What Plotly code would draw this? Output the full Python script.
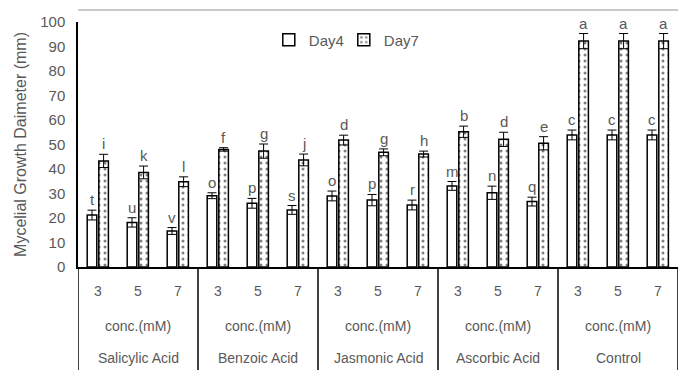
import plotly.graph_objects as go

groups = ["Salicylic Acid", "Benzoic Acid", "Jasmonic Acid", "Ascorbic Acid", "Control"]
concs = ["3", "5", "7"]
conc_label = "conc.(mM)"

day4 = [21.2, 18.2, 14.7, 29.1, 26.0, 23.3, 29.0, 27.3, 25.3, 33.1, 30.3, 26.7, 53.9, 53.9, 53.9]
day7 = [43.3, 38.6, 34.8, 48.0, 47.3, 43.7, 51.8, 46.8, 46.1, 55.2, 52.1, 50.5, 92.2, 92.2, 92.2]
err4 = [2.0, 1.9, 1.4, 1.2, 2.0, 1.8, 2.0, 2.3, 2.0, 1.8, 2.7, 1.8, 2.0, 2.0, 2.0]
err7 = [2.7, 2.6, 2.0, 0.7, 2.9, 2.4, 2.0, 1.4, 1.2, 2.3, 2.9, 2.7, 3.1, 3.1, 3.1]
letters4 = ["t", "u", "v", "o", "p", "s", "o", "p", "r", "m", "n", "q", "c", "c", "c"]
letters7 = ["i", "k", "l", "f", "g", "j", "d", "g", "h", "b", "d", "e", "a", "a", "a"]

FONT = "Liberation Sans, Arial, sans-serif"
GRAY = "#595959"

n = len(day4)
xs = list(range(n))
W = 0.24
OFF4, OFF7 = -0.27, 0.02

fig = go.Figure()
fig.add_trace(go.Bar(
    name="Day4", x=xs, y=day4, width=W, offset=OFF4,
    marker=dict(color="white", line=dict(color="black", width=1.5)),
    error_y=dict(type="data", array=err4, color="black", thickness=1, width=4.5),
))
fig.add_trace(go.Bar(
    name="Day7", x=xs, y=day7, width=W, offset=OFF7,
    marker=dict(color="white", line=dict(color="black", width=1.5),
                pattern=dict(shape=".", fgcolor="black", bgcolor="white", size=6, solidity=0.2)),
    error_y=dict(type="data", array=err7, color="black", thickness=1, width=4.5),
))

ann = []
for i in xs:
    ann.append(dict(x=i + OFF4 + W / 2, y=day4[i] + err4[i], text=letters4[i], showarrow=False,
                    yanchor="bottom", xanchor="center", xref="x", yref="y", yshift=0,
                    font=dict(family=FONT, size=15, color=GRAY)))
    ann.append(dict(x=i + OFF7 + W / 2, y=day7[i] + err7[i], text=letters7[i], showarrow=False,
                    yanchor="bottom", xanchor="center", xref="x", yref="y", yshift=0,
                    font=dict(family=FONT, size=15, color=GRAY)))

# category table below the axis
PH = 245.0
def py(pix):
    return (267 - pix) / PH

for gi, g in enumerate(groups):
    for ci, c in enumerate(concs):
        k = gi * len(concs) + ci
        ann.append(dict(x=k, y=py(291), text=c, showarrow=False, xref="x", yref="paper",
                        xanchor="center", yanchor="middle",
                        font=dict(family=FONT, size=14, color=GRAY)))
    center = gi * len(concs) + (len(concs) - 1) / 2
    ann.append(dict(x=center, y=py(326), text=conc_label, showarrow=False, xref="x", yref="paper",
                    xanchor="center", yanchor="middle",
                    font=dict(family=FONT, size=14, color=GRAY)))
    ann.append(dict(x=center, y=py(358), text=g, showarrow=False, xref="x", yref="paper",
                    xanchor="center", yanchor="middle",
                    font=dict(family=FONT, size=14, color=GRAY)))

shapes = []
for b in range(len(groups) + 1):
    xb = b * len(concs) - 0.5
    shapes.append(dict(type="line", xref="x", yref="paper", x0=xb, x1=xb, y0=0, y1=py(372),
                       line=dict(color="black", width=1.5)))
# light chart border along the top
shapes.append(dict(type="line", xref="x", yref="paper", x0=-2.25, x1=n - 0.45,
                   y0=py(10), y1=py(10), line=dict(color="#c8c8c8", width=2), layer="above"))

fig.update_layout(
    width=681, height=370,
    margin=dict(l=78, r=3, t=22, b=103),
    paper_bgcolor="white", plot_bgcolor="white",
    barmode="overlay",
    font=dict(family=FONT, color=GRAY, size=14),
    showlegend=True,
    legend=dict(orientation="h", x=0.318, xanchor="left", y=py(40), yanchor="middle",
                font=dict(family=FONT, size=15, color=GRAY), bgcolor="rgba(0,0,0,0)",
                entrywidth=30, entrywidthmode="pixels", tracegroupgap=0),
    xaxis=dict(range=[-0.5, n - 0.5], showticklabels=False, showgrid=False, zeroline=False,
               showline=True, linecolor="black", linewidth=1.5, ticks="", automargin=False),
    yaxis=dict(range=[0, 100], dtick=10, showgrid=False, zeroline=False, showline=True,
               linecolor="black", linewidth=1.5, ticks="", automargin=False, ticklabelstandoff=8,
               tickfont=dict(family=FONT, size=15, color=GRAY),
               title=dict(text="Mycelial Growth Daimeter (mm)", font=dict(family=FONT, size=16, color=GRAY),
                          standoff=10)),
    annotations=ann,
    shapes=shapes,
)

fig.write_html("out.html", config={"displayModeBar": False},
               post_script="document.body.style.margin='0';")
